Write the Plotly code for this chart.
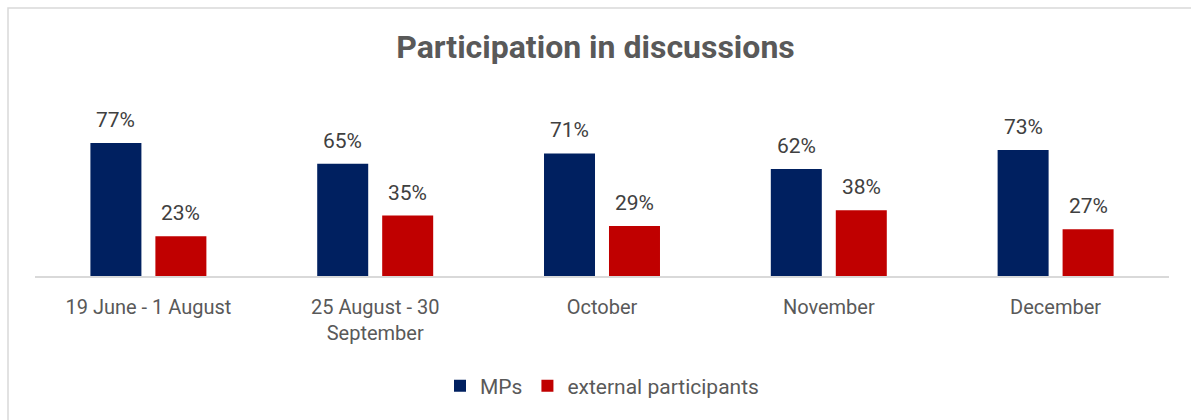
import plotly.graph_objects as go

categories = ["19 June - 1 August", "25 August - 30<br>September", "October", "November", "December"]
mps = [77, 65, 71, 62, 73]
external = [23, 35, 29, 38, 27]
series_names = ["MPs", "external participants"]
colors = ["#002060", "#C00000"]

FONT = "Roboto, Liberation Sans, sans-serif"

# plot area geometry
L, R, B, T = 35, 22, 144, 120
W = 1191 - L - R
H = 420 - T - B
BARGAP = 0.427
slot_px = W / len(categories) * (1 - BARGAP) / 2

fig = go.Figure()
annotations = []
for i, (name, vals, col) in enumerate(zip(series_names, [mps, external], colors)):
    fig.add_trace(go.Bar(
        x=categories, y=vals, name=name,
        marker=dict(color=col, line=dict(width=0)),
        cliponaxis=False,
    ))
    shift = (i - 0.5) * slot_px
    for c, v in zip(categories, vals):
        annotations.append(dict(
            x=c, y=v, xref="x", yref="y", text=f"{v}%", showarrow=False,
            xanchor="center", yanchor="bottom", xshift=shift, yshift=9,
            font=dict(family=FONT, size=21, color="#404040"),
        ))


def px_x(x):
    return (x - L) / W


def px_y(y):
    return (420 - B - y) / H


fig.update_layout(
    width=1191, height=420,
    margin=dict(l=L, r=R, t=T, b=B, autoexpand=False),
    paper_bgcolor="white", plot_bgcolor="white",
    barmode="group", bargap=BARGAP, bargroupgap=0.215,
    title=dict(text="<b>Participation in discussions</b>", x=0.5, xanchor="center",
               y=1 - 47 / 420, yanchor="middle",
               font=dict(family=FONT, size=32, color="#595959")),
    xaxis=dict(showline=True, linecolor="#D9D9D9", linewidth=2, ticks="",
               ticklabelstandoff=12,
               tickfont=dict(family=FONT, size=20, color="#595959"),
               showgrid=False, zeroline=False),
    yaxis=dict(range=[0, H / 1.727], visible=False, showgrid=False, zeroline=False),
    legend=dict(orientation="h", x=0.5, xanchor="center", y=px_y(386), yanchor="middle",
                font=dict(family=FONT, size=21, color="#595959"),
                itemwidth=30, traceorder="normal"),
    annotations=annotations,
    shapes=[dict(type="rect", xref="paper", yref="paper",
                 x0=px_x(8), x1=px_x(1215), y0=px_y(440), y1=px_y(8),
                 line=dict(color="#D9D9D9", width=1.5), fillcolor="rgba(0,0,0,0)", layer="below")],
)

fig.write_html("out.html")
